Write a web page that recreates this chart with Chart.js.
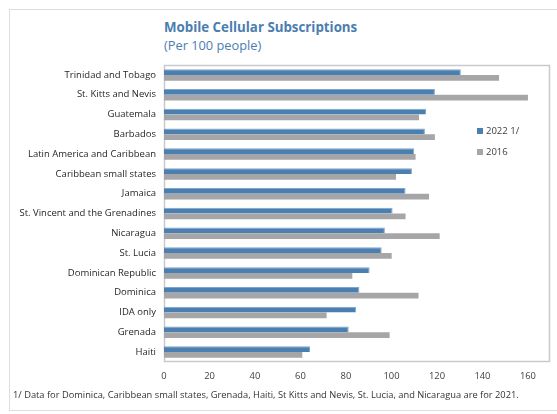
<!DOCTYPE html>
<html>
<head>
<meta charset="utf-8">
<script src="https://cdn.jsdelivr.net/npm/chart.js@4.4.1/dist/chart.umd.min.js"></script>
<style>
  html, body { margin: 0; padding: 0; background: #ffffff; }
  body { width: 557px; height: 414px; position: relative; overflow: hidden;
         font-family: 'Segoe UI', 'Open Sans', 'Noto Sans', sans-serif; }
  #box { position: absolute; left: 9px; top: 9px; width: 560px; height: 400px;
         border: 1.5px solid #dedede; }
  #title { position: absolute; left: 164px; top: 18px; font-size: 13.3px; font-weight: bold;
           color: #4a7eb0; white-space: nowrap; }
  #subtitle { position: absolute; left: 164px; top: 36px; font-size: 12.8px;
              color: #4a7eb0; white-space: nowrap; }
  #note { position: absolute; left: 13px; top: 388px; font-size: 9.3px; color: #333333;
          white-space: nowrap; }
  canvas { position: absolute; left: 0; top: 0; }
</style>
</head>
<body>
<div id="box"></div>
<div id="title">Mobile Cellular Subscriptions</div>
<div id="subtitle">(Per 100 people)</div>
<canvas id="chart" width="557" height="414"></canvas>
<div id="note">1/ Data for Dominica, Caribbean small states, Grenada, Haiti, St Kitts and Nevis, St. Lucia, and Nicaragua are for 2021.</div>
<script>
// Countries and groups, top to bottom
const countries = [
  'Trinidad and Tobago', 'St. Kitts and Nevis', 'Guatemala', 'Barbados',
  'Latin America and Caribbean', 'Caribbean small states', 'Jamaica',
  'St. Vincent and the Grenadines', 'Nicaragua', 'St. Lucia',
  'Dominican Republic', 'Dominica', 'IDA only', 'Grenada', 'Haiti'
];

// Subscriptions per 100 people
const subs2022 = [130.5, 119.1, 115.2, 114.7, 110.0, 109.0, 106.2, 100.5, 97.1, 95.7, 90.4, 85.9, 84.5, 81.2, 64.2];
const subs2016 = [147.3, 160.0, 112.1, 119.1, 110.6, 102.0, 116.5, 106.2, 121.2, 100.1, 82.8, 111.9, 71.5, 99.2, 60.8];

const seriesLabels = ['2022 1/', '2016'];
const xTicks = [0, 20, 40, 60, 80, 100, 120, 140, 160];

const FONT = "'Segoe UI', 'Open Sans', 'Noto Sans', sans-serif";
const BLUE = '#4a7fb0';
const GREY = '#a6a6a8';

// Light frame around the plot area
const plotFrame = {
  id: 'plotFrame',
  beforeDatasetsDraw(chart) {
    const a = chart.chartArea, ctx = chart.ctx;
    ctx.save();
    ctx.strokeStyle = '#c9c9c9';
    ctx.lineWidth = 1.5;
    ctx.strokeRect(a.left + 0.5, a.top + 0.5, a.right - a.left - 1, a.bottom - a.top - 1);
    ctx.restore();
  }
};

// Legend drawn inside the plot area, on the right
const insideLegend = {
  id: 'insideLegend',
  afterDraw(chart) {
    const ctx = chart.ctx, a = chart.chartArea;
    const x = a.left + 313, y0 = a.top + 66, gap = 21;
    ctx.save();
    ctx.font = '9.5px ' + FONT;
    ctx.textBaseline = 'middle';
    chart.data.datasets.forEach((ds, i) => {
      const y = y0 + i * gap;
      ctx.fillStyle = ds.backgroundColor;
      ctx.fillRect(x, y - 3, 6, 6);
      ctx.fillStyle = '#404040';
      ctx.fillText(ds.label, x + 9, y);
    });
    ctx.restore();
  }
};

new Chart(document.getElementById('chart'), {
  type: 'bar',
  data: {
    labels: countries,
    datasets: [
      { label: seriesLabels[0], data: subs2022, backgroundColor: BLUE,
        borderColor: '#7fa6cb', borderWidth: { top: 1, right: 1, bottom: 0, left: 0 } },
      { label: seriesLabels[1], data: subs2016, backgroundColor: GREY, borderWidth: 0 }
    ]
  },
  options: {
    indexAxis: 'y',
    responsive: false,
    animation: false,
    devicePixelRatio: 1,
    categoryPercentage: 0.58,
    barPercentage: 1.0,
    layout: { padding: { top: 65, right: 7, bottom: 27, left: 0 } },
    plugins: {
      legend: { display: false },
      title: { display: false },
      tooltip: { enabled: false }
    },
    scales: {
      x: {
        min: 0,
        max: 169.7,
        grid: { display: false, drawTicks: false },
        border: { display: false },
        afterBuildTicks(scale) {
          scale.ticks = xTicks.map(v => ({ value: v }));
        },
        afterFit(scale) { scale.height = 25; },
        ticks: {
          padding: 9,
          color: '#404040',
          font: { family: FONT, size: 9.4 }
        }
      },
      y: {
        grid: { display: false, drawTicks: false },
        border: { display: false },
        afterFit(scale) { scale.width = 164; },
        ticks: {
          padding: 8,
          color: '#262626',
          font: { family: FONT, size: 9.5 },
          autoSkip: false
        }
      }
    }
  },
  plugins: [plotFrame, insideLegend]
});
</script>
</body>
</html>
